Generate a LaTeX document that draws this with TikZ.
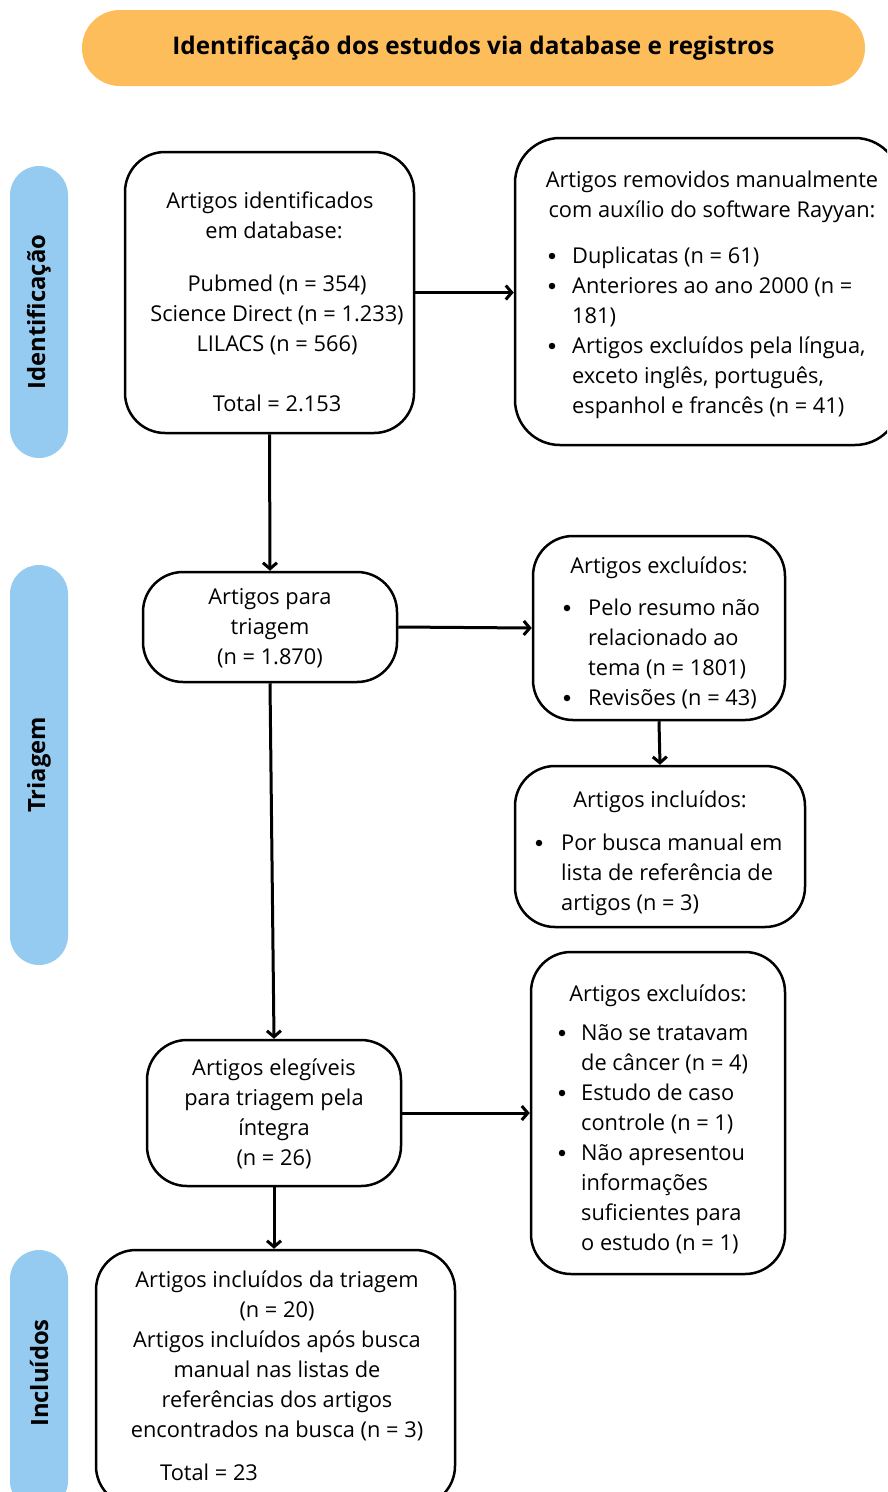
\documentclass[tikz,border=0pt]{standalone}
\usepackage{fontspec}
\setmainfont{Open Sans}
\usetikzlibrary{arrows.meta}
\definecolor{bannerorange}{HTML}{FDBD5B}
\definecolor{sideblue}{HTML}{95CBF1}
\tikzset{
 box/.style={draw, line width=2.5pt, rounded corners=40pt, inner sep=0pt, rectangle},
 txt/.style={font=\fontsize{21.8}{30}\selectfont, inner sep=0pt, align=center, anchor=base},
 ltxt/.style={font=\fontsize{21.8}{30}\selectfont, inner sep=0pt, align=left, anchor=base west},
 dot/.style={circle, fill, inner sep=0pt, minimum size=6.5pt},
 side/.style={fill=sideblue, rounded corners=29pt, inner sep=0pt, minimum width=58pt, rectangle},
 sidelabel/.style={font=\fontsize{23.8}{28}\selectfont\bfseries, rotate=90, inner sep=0pt},
 arr/.style={line width=3pt, -{Straight Barb[length=6pt,width=14pt]}}
}
\begin{document}
\begin{tikzpicture}[x=1pt,y=-1pt]
\useasboundingbox (0,0) rectangle (887,1492);
\clip (0,0) rectangle (887,1492);
% banner
\node[fill=bannerorange, rounded corners=38pt, minimum width=783pt, minimum height=76pt, inner sep=0pt] (banner) at (473.5,48) {};
\node[font=\fontsize{24.3}{28}\selectfont\bfseries, inner sep=0pt] (title) at (473.5,48) {Identificação dos estudos via database e registros};
% side bars
\node[side, minimum height=292pt] (s1) at (39,312) {};
\node[sidelabel] (s1t) at (39,312) {Identificação};
\node[side, minimum height=400pt] (s2) at (39,765) {};
\node[sidelabel] (s2t) at (39,765) {Triagem};
\node[side, minimum height=260pt] (s3) at (39,1380) {};
\node[sidelabel] (s3t) at (39,1373) {Incluídos};
% boxes
\node[box, minimum width=289pt, minimum height=281pt] (b1) at (269.5,292.5) {};
\node[box, rounded corners=45pt, minimum width=385pt, minimum height=307pt] (b2) at (707.5,291.5) {};
\node[box, minimum width=254pt, minimum height=110pt] (b3) at (270,627) {};
\node[box, minimum width=252pt, minimum height=184pt] (b4) at (659,628) {};
\node[box, minimum width=290pt, minimum height=161pt] (b5) at (660,846.5) {};
\node[box, minimum width=254pt, minimum height=146pt] (b6) at (274,1113) {};
\node[box, minimum width=254pt, minimum height=322pt] (b7) at (658,1113) {};
\node[box, minimum width=359pt, minimum height=256pt] (b8) at (275.5,1378) {};
% texts (anchor base = baseline of last line)
\node[txt] (b1t) at (270,411) {Artigos identificados\\\hspace*{8pt}em database:\\[23pt]\hspace*{14pt}Pubmed (n = 354)\\\hspace*{14pt}Science Direct (n = 1.233)\\\hspace*{14pt}LILACS (n = 566)\\[30pt]\hspace*{14pt}Total = 2.153};
\node[txt] (b2h) at (712,217) {Artigos removidos manualmente\\com auxílio do software Rayyan:};
\node[ltxt] (b2i) at (572,413) {Duplicatas (n = 61)\\Anteriores ao ano 2000 (n =\\181)\\Artigos excluídos pela língua,\\exceto inglês, português,\\espanhol e francês (n = 41)};
\node[dot] (d21) at (552,256) {};
\node[dot] (d22) at (552,286) {};
\node[dot] (d23) at (552,346) {};
\node[txt] (b3t) at (270,664) {Artigos para\\triagem\\(n = 1.870)};
\node[txt] (b4h) at (659,573) {Artigos excluídos:};
\node[ltxt] (b4i) at (588,705) {Pelo resumo não\\relacionado ao\\tema (n = 1801)\\Revisões (n = 43)};
\node[dot] (d41) at (567,608) {};
\node[dot] (d42) at (567,698) {};
\node[txt] (b5h) at (660,807) {Artigos incluídos:};
\node[ltxt] (b5i) at (561,910) {Por busca manual em\\lista de referência de\\artigos (n = 3)};
\node[dot] (d51) at (539,843) {};
\node[txt] (b6t) at (274,1165) {Artigos elegíveis\\para triagem pela\\íntegra\\(n = 26)};
\node[txt] (b7h) at (658,1001) {Artigos excluídos:};
\node[ltxt] (b7i) at (581,1250) {Não se tratavam\\de câncer (n = 4)\\Estudo de caso\\controle (n = 1)\\Não apresentou\\informações\\suficientes para\\o estudo (n = 1)};
\node[dot] (d71) at (562,1033) {};
\node[dot] (d72) at (562,1093) {};
\node[dot] (d73) at (562,1153) {};
\node[txt] (b8t) at (277,1437) {Artigos incluídos da triagem\\(n = 20)\\Artigos incluídos após busca\\manual nas listas de\\referências dos artigos\\encontrados na busca (n = 3)};
\node[ltxt] (b8total) at (160,1480) {Total = 23};
% arrows
\draw[arr] (b1.east) -- (b2.west |- b1.east);
\draw[arr] (b1.south) -- (b3.north);
\draw[arr] (b3.east) -- (b4.west);
\draw[arr] (b4.south) -- (b5.north);
\draw[arr] (b3.south) -- (b6.north);
\draw[arr] (b6.east) -- (b7.west);
\draw[arr] (b6.south) -- (b6.south |- b8.north);
\end{tikzpicture}
\end{document}
